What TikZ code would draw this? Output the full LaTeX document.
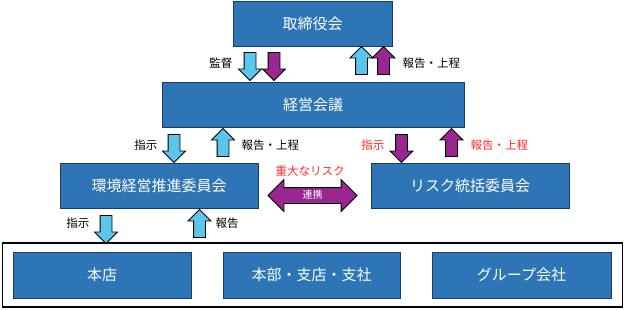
\documentclass[tikz,border=0pt]{standalone}
\usepackage{fontspec}
\setmainfont{Noto Sans CJK JP}
\usetikzlibrary{shapes.arrows}
\definecolor{boxblue}{RGB}{46,117,182}
\definecolor{boxline}{RGB}{32,56,100}
\definecolor{arrcyan}{RGB}{91,197,235}
\definecolor{arrpurple}{RGB}{153,38,145}
\definecolor{labelred}{RGB}{255,40,40}
\tikzset{
  orgbox/.style={draw=boxline, fill=boxblue, text=white, font=\fontsize{15}{18}\selectfont, minimum height=45pt, inner sep=0pt, line width=0.8pt},
  downarrow/.style={single arrow, draw=black, fill=#1, rotate=-90, minimum height=28pt, single arrow head extend=5.5pt, inner xsep=0pt, inner ysep=5.5pt, line width=0.8pt},
  uparrow/.style={downarrow=#1, rotate=180},
  lbl/.style={font=\fontsize{11.5}{14}\selectfont},
}
\begin{document}
\begin{tikzpicture}[x=1pt, y=-1pt]
\useasboundingbox (0,0) rectangle (624,309);
% committees
\node[orgbox, minimum width=159pt] (board) at (312.5,23.5) {取締役会};
\node[orgbox, minimum width=302pt] (mgmt) at (313,104.5) {経営会議};
\node[orgbox, minimum width=198pt] (env) at (159,185.5) {環境経営推進委員会};
\node[orgbox, minimum width=198pt] (risk) at (470,185.5) {リスク統括委員会};

% group companies
\node[draw=black, line width=1.4pt, minimum width=620pt, minimum height=64pt, inner sep=0pt] (group) at (312.5,275) {};
\node[orgbox, minimum width=178pt, minimum height=46pt] (hq) at (102,275) {本店};
\node[orgbox, minimum width=177pt, minimum height=46pt] (branch) at (311.5,275) {本部・支店・支社};
\node[orgbox, minimum width=179pt, minimum height=46pt] (subs) at (521.5,275) {グループ会社};

% board <-> management
\node[downarrow=arrcyan] (audit1) at (250,63.5) {};
\node[downarrow=arrpurple] (audit2) at (274,63.5) {};
\node[uparrow=arrcyan] (report1) at (361.5,63.5) {};
\node[uparrow=arrpurple] (report2) at (383.5,63.5) {};
\node[lbl, anchor=east] (auditlbl) at (236,63) {監督};
\node[lbl, anchor=west] (reportlbl) at (399,63) {報告・上程};

% management <-> committees
\node[downarrow=arrcyan] (order1) at (174,145.5) {};
\node[uparrow=arrcyan] (report3) at (223,145.5) {};
\node[lbl, anchor=east] (orderlbl1) at (161,145) {指示};
\node[lbl, anchor=west] (reportlbl3) at (238,145) {報告・上程};
\node[downarrow=arrpurple] (order2) at (401.5,145.5) {};
\node[uparrow=arrpurple] (report4) at (451.5,145.5) {};
\node[lbl, anchor=east, text=labelred] (orderlbl2) at (388,145) {指示};
\node[lbl, anchor=west, text=labelred] (reportlbl4) at (467,145) {報告・上程};

% environment committee <-> group
\node[downarrow=arrcyan] (order3) at (106,226.5) {};
\node[uparrow=arrcyan] (report5) at (199.5,226.5) {};
\node[lbl, anchor=east] (orderlbl3) at (93,223) {指示};
\node[lbl, anchor=west] (reportlbl5) at (212,223) {報告};

% cooperation
\node[double arrow, draw=black, fill=arrpurple, minimum height=89pt, double arrow head extend=8pt, inner xsep=0pt, inner ysep=2.5pt, text height=7.5pt, text depth=2.5pt, line width=0.8pt, text=white, font=\fontsize{10}{12}\selectfont] (link) at (312.5,195.5) {連携};
\node[lbl, text=labelred] (risklbl) at (310,171) {重大なリスク};
\end{tikzpicture}
\end{document}
